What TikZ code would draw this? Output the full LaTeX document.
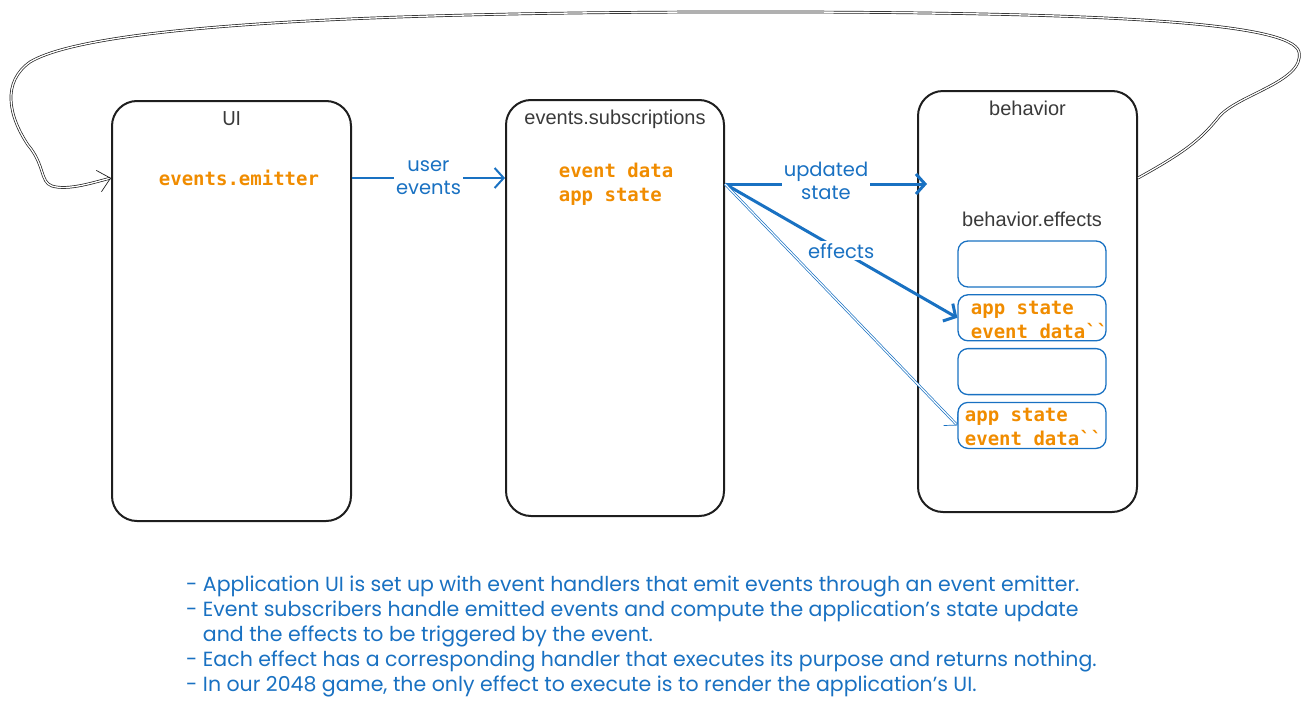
\documentclass[tikz,border=0pt]{standalone}
\usepackage{fontspec}
\setmainfont{Poppins}
\newfontfamily\codefont{DejaVu Sans Mono}
\newfontfamily\labelfont{Liberation Sans}
\usetikzlibrary{positioning,arrows.meta}

\definecolor{penblue}{HTML}{1971C2}
\definecolor{codeorange}{HTML}{F08C00}
\definecolor{inkblack}{HTML}{1E1E1E}
\definecolor{titlegrey}{HTML}{3A3A3A}

\tikzstyle{panel} = [rectangle, rounded corners=25pt, draw=inkblack, line width=2pt]
\tikzstyle{effect} = [rectangle, rounded corners=10pt, draw=penblue, line width=1.3pt, minimum width=148pt, minimum height=46pt, inner sep=0pt]
\tikzstyle{title} = [font=\labelfont\fontsize{20}{24}\selectfont, text=titlegrey]
\tikzstyle{code} = [font=\codefont\bfseries\fontsize{19}{24}\selectfont, text=codeorange, align=left]
\tikzstyle{hand} = [font=\fontsize{19.5}{23}\selectfont, text=penblue, align=center, fill=white, inner sep=2pt]
\tikzstyle{flow} = [penblue, line width=3pt, -{Straight Barb[length=9pt,width=20pt]}]
\tikzstyle{thinflow} = [penblue, double, double distance=1.2pt, line width=0.7pt, -{Straight Barb[length=9pt,width=20pt]}]
\tikzstyle{loopline} = [inkblack, double, double distance=1.3pt, line width=0.7pt, -{Straight Barb[length=12pt,width=22pt]}]

\begin{document}
\begin{tikzpicture}[x=1pt, y=-1pt, node distance=6.5pt]
        \useasboundingbox (0,0) rectangle (1309,707);

        \node (ui) [panel, minimum width=239pt, minimum height=420pt] at (231.5,311) {};
        \node (sub) [panel, minimum width=218pt, minimum height=416pt] at (615,308) {};
        \node (beh) [panel, minimum width=219pt, minimum height=421pt] at (1027.5,301.5) {};

        \node (uititle) [title, font=\fontsize{20}{24}\selectfont, below=8pt of ui.north] {UI};
        \node (subtitle) [title, below=7pt of sub.north] {events.subscriptions};
        \node (behtitle) [title, below=7pt of beh.north] {behavior};

        \node (emit) [code] at (239,178) {events.emitter};
        \node (subtxt) [code] at (616,184) {event data\\app state};

        \node (eff1) [effect] at (1032,264) {};
        \node (eff2) [effect, below=of eff1] {};
        \node (eff3) [effect, below=of eff2] {};
        \node (eff4) [effect, below=of eff3] {};
        \node (efftitle) [title, above=10pt of eff1] {behavior.effects};

        \node (eff2txt) [code, anchor=west] at ([xshift=10pt, yshift=-2pt]eff2.west) {app state\\event data\textasciigrave\textasciigrave};
        \node (eff4txt) [code, anchor=west] at ([xshift=4pt, yshift=-2pt]eff4.west) {app state\\event data\textasciigrave\textasciigrave};

        \draw [flow, line width=2pt] (ui.east |- emit) -- node[hand] {user\\events} (sub.west |- emit);
        \draw [flow] (sub.east |- subtxt) -- node[hand, yshift=3pt] {updated\\state} ([xshift=10pt]beh.west |- subtxt);
        \draw [flow] (sub.east |- subtxt) -- node[hand] {effects} (eff2.west);
        \draw [thinflow] (sub.east |- subtxt) -- (eff4.west);

        \draw [loopline] (beh.east |- emit) .. controls (1185,152) and (1200,140) .. (1218,118)
                .. controls (1235,95) and (1305,82) .. (1299,52)
                .. controls (1292,22) and (1100,13) .. (800,12)
                .. controls (450,11) and (100,20) .. (30,62)
                .. controls (2,82) and (8,115) .. (28,145)
                .. controls (45,165) and (40,182) .. (52,186)
                .. controls (68,191) and (95,182) .. (ui.west |- emit);

        \node (notes) [hand, align=left, anchor=north west, font=\fontsize{20.5}{25}\selectfont, inner sep=0pt] at (186,576) {- Application UI is set up with event handlers that emit events through an event emitter.\\- Event subscribers handle emitted events and compute the application's state update\\\phantom{- }and the effects to be triggered by the event.\\- Each effect has a corresponding handler that executes its purpose and returns nothing.\\- In our 2048 game, the only effect to execute is to render the application's UI.};
    \end{tikzpicture}
\end{document}
